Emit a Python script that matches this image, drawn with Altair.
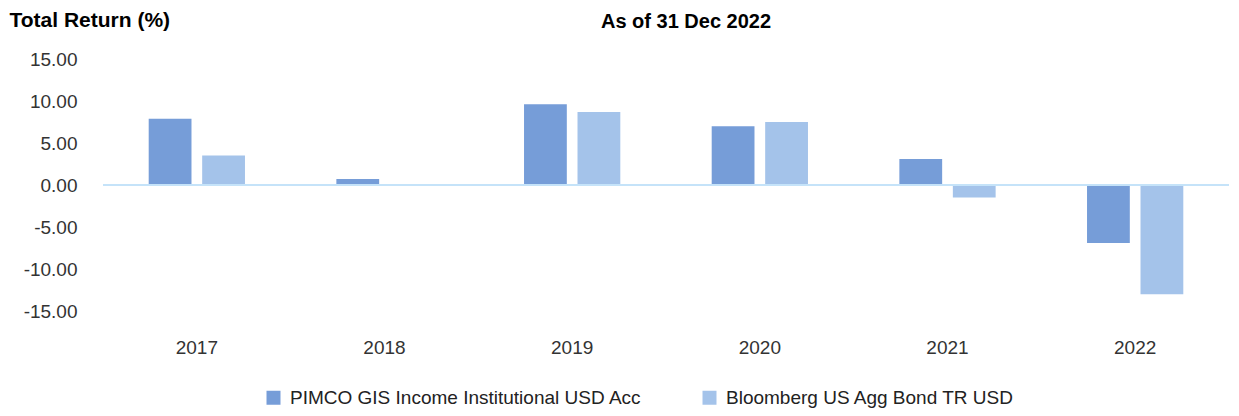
import altair as alt
import pandas as pd

years = ["2017", "2018", "2019", "2020", "2021", "2022"]
series_names = ["PIMCO GIS Income Institutional USD Acc", "Bloomberg US Agg Bond TR USD"]
pimco = [7.9, 0.7, 9.6, 7.0, 3.1, -6.9]
bloomberg = [3.5, 0.01, 8.7, 7.5, -1.5, -13.0]
y_ticks = [-15, -10, -5, 0, 5, 10, 15]
colors = ["#769dd8", "#a4c3ea"]

rows = []
for i, yr in enumerate(years):
    rows.append({"year": yr, "series": series_names[0], "value": pimco[i]})
    rows.append({"year": yr, "series": series_names[1], "value": bloomberg[i]})
df = pd.DataFrame(rows)

FONT = "Liberation Sans"

bars = alt.Chart(df).mark_bar().encode(
    x=alt.X("year:N", sort=years,
            scale=alt.Scale(paddingInner=0.487, paddingOuter=0.2435),
            axis=alt.Axis(title=None, domain=False, ticks=False, labelAngle=0,
                          labelFontSize=19, labelPadding=27, labelColor="#333333",
                          labelFont=FONT)),
    xOffset=alt.XOffset("series:N", sort=series_names,
                        scale=alt.Scale(paddingInner=0.2, paddingOuter=0)),
    y=alt.Y("value:Q", scale=alt.Scale(domain=[-15, 15], nice=False, zero=True),
            axis=alt.Axis(values=y_ticks,
                          labelExpr="replace(format(datum.value, '.2f'), '\u2212', '-')",
                          grid=False, domain=False,
                          ticks=False, labelFontSize=19, labelPadding=26,
                          labelColor="#333333", labelFont=FONT,
                          title="Total Return (%)", titleAngle=0, titleAlign="left",
                          titleBaseline="middle", titleX=-94, titleY=-39,
                          titleFontSize=21, titleFontWeight="bold", titleFont=FONT,
                          titleColor="#000000")),
    color=alt.Color("series:N", sort=series_names,
                    scale=alt.Scale(domain=series_names, range=colors),
                    legend=alt.Legend(title=None, orient="none", legendX=161, legendY=329,
                                      direction="horizontal", symbolType="square",
                                      symbolSize=196, symbolStrokeWidth=0,
                                      labelFontSize=19, labelFont=FONT, labelColor="#222222",
                                      labelLimit=0, columnPadding=58, labelOffset=7)),
)

zero = alt.Chart(df).mark_rule(color="#c5e3f9", strokeWidth=2).encode(y=alt.datum(0))

chart = alt.layer(bars, zero).properties(
    width=1126, height=252,
    title=alt.TitleParams("As of 31 Dec 2022", anchor="middle", fontSize=20,
                          fontWeight="bold", font=FONT, color="#000000", dx=20, dy=23,
                          offset=0),
    autosize=alt.AutoSizeParams(type="none"),
    padding={"left": 95, "top": 51, "right": 0, "bottom": 97},
).configure_view(stroke=None)

chart.save("out.html", embed_options={"renderer": "svg", "actions": False})
